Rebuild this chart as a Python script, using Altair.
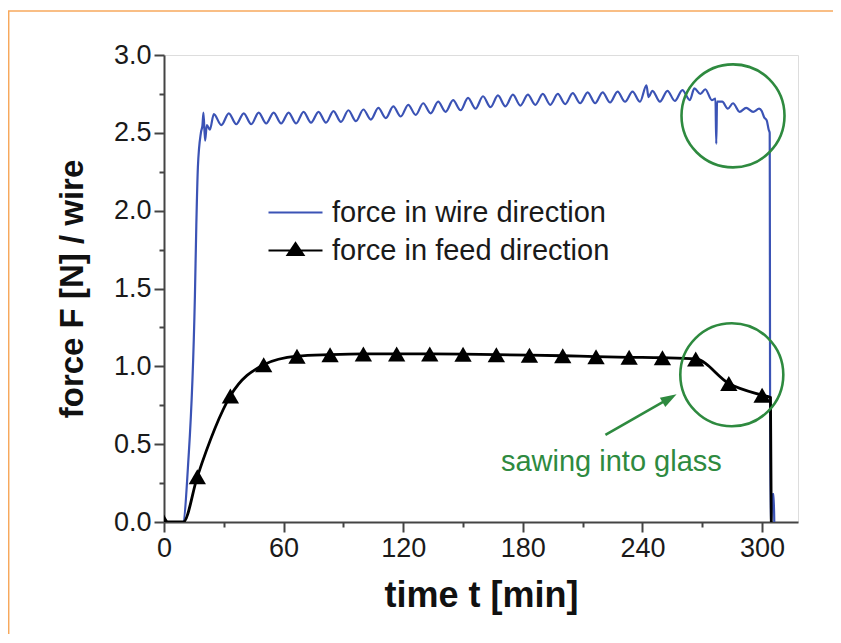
import altair as alt
import pandas as pd

# ---------------- data ----------------
wire_time = [0, 9.5, 12.0, 15.5, 16.2, 17.0, 18.5, 19.3, 19.8, 20.6, 21.5, 23.0,
             25, 28.75, 32.5, 36.25, 40, 43.75, 47.5, 51.25, 55, 58.75, 62.5, 66.25,
             70, 73.75, 77.5, 81.25, 85, 88.75, 92.5, 96.25, 100, 103.75, 107.5, 111.25,
             115, 118.75, 122.5, 126.25, 130, 133.75, 137.5, 141.25, 145, 148.75, 152.5,
             156.25, 160, 163.75, 167.5, 171.25, 175, 178.75, 182.5, 186.25, 190, 193.75,
             197.5, 201.25, 205, 208.75, 212.5, 216.25, 220, 223.75, 227.5, 231.25, 235,
             238.75, 242, 243, 245, 248.75, 252.5, 256.25, 260, 263.75, 266, 269, 271.5,
             274.8, 276.6, 277.0, 277.4, 280, 282.8, 285.4, 288.7, 292, 295.5, 298.5,
             299.8, 301, 302.3, 303.3, 303.8, 304.1, 304.6, 305.2, 305.8, 306.1]
wire_force = [0, 0, 0.35, 1.45, 1.9, 2.28, 2.5, 2.55, 2.63, 2.45, 2.55, 2.52,
              2.62, 2.55, 2.625, 2.555, 2.625, 2.555, 2.63, 2.56, 2.63, 2.56, 2.63, 2.56,
              2.635, 2.565, 2.635, 2.565, 2.64, 2.57, 2.645, 2.575, 2.65, 2.585, 2.66, 2.595,
              2.67, 2.605, 2.68, 2.615, 2.69, 2.625, 2.70, 2.635, 2.71, 2.645, 2.725,
              2.655, 2.735, 2.665, 2.74, 2.67, 2.745, 2.675, 2.745, 2.68, 2.75, 2.68,
              2.75, 2.685, 2.755, 2.69, 2.76, 2.69, 2.76, 2.695, 2.765, 2.70, 2.765,
              2.70, 2.805, 2.73, 2.77, 2.70, 2.77, 2.705, 2.775, 2.71, 2.785, 2.75, 2.78,
              2.71, 2.72, 2.43, 2.70, 2.70, 2.655, 2.69, 2.635, 2.66, 2.635, 2.655,
              2.64, 2.60, 2.58, 2.52, 2.50, 0.0, 0.0, 0.18, 0.18, 0.0]

feed_time = [0, 9.7, 16.7, 33.3, 50, 66.7, 83.3, 100, 116.7, 133.3, 150, 166.7,
             183.3, 200, 216.7, 233.3, 250, 266.7, 283.3, 300, 304.2, 304.6]
feed_force = [0, 0, 0.29, 0.81, 1.01, 1.065, 1.075, 1.08, 1.08, 1.08, 1.078, 1.075,
              1.072, 1.068, 1.062, 1.058, 1.055, 1.047, 0.89, 0.815, 0.80, 0.0]

marker_time = [0, 16.7, 33.3, 50, 66.7, 83.3, 100, 116.7, 133.3, 150, 166.7,
               183.3, 200, 216.7, 233.3, 250, 266.7, 283.3, 300]
marker_force = [0, 0.29, 0.81, 1.01, 1.065, 1.075, 1.08, 1.08, 1.08, 1.078, 1.075,
                1.072, 1.068, 1.062, 1.058, 1.055, 1.047, 0.89, 0.815]

series_names = ["force in wire direction", "force in feed direction"]
x_major_ticks = [0, 60, 120, 180, 240, 300]
x_minor_ticks = [30, 90, 150, 210, 270]
y_major_ticks = [0.0, 0.5, 1.0, 1.5, 2.0, 2.5, 3.0]
y_minor_ticks = [0.25, 0.75, 1.25, 1.75, 2.25, 2.75]

circle_time = [285.4, 284.8]
circle_force = [2.609, 0.946]

arrow_tail = (221.4, 0.559)
arrow_head = (253.2, 0.792)
note_text = "sawing into glass"
note_pos = (224.4, 0.385)

BLUE = "#3b53b5"
GREEN = "#2e8a3f"
FRAME = "#444444"
ORANGE = "#f7a85c"
FONT = "Liberation Sans"

wire_df = pd.DataFrame({"t": wire_time, "f": wire_force})
feed_df = pd.DataFrame({"t": feed_time, "f": feed_force})
marker_df = pd.DataFrame({"t": marker_time, "f": marker_force})
circle_df = pd.DataFrame({"t": circle_time, "f": circle_force})
arrow_df = pd.DataFrame({"t": [arrow_tail[0]], "f": [arrow_tail[1]],
                         "t2": [arrow_head[0]], "f2": [arrow_head[1]]})
head_df = pd.DataFrame({"t": [arrow_head[0]], "f": [arrow_head[1]]})
note_df = pd.DataFrame({"t": [note_pos[0]], "f": [note_pos[1]], "label": [note_text]})
legend_df = pd.DataFrame({"series": series_names})

xs = alt.Scale(domain=[0, 318], nice=False, zero=False)
ys = alt.Scale(domain=[0, 3], nice=False, zero=False)

x_major = alt.Axis(values=x_major_ticks, title="time t [min]", orient="bottom",
                   tickSize=10, tickWidth=2, tickColor=FRAME, domainColor=FRAME,
                   domainWidth=2, labelFontSize=27, labelFont=FONT, labelColor="#1a1a1a",
                   labelPadding=3, labelFlush=False, titleFontSize=36, titleFont=FONT,
                   titleFontWeight="bold", titleColor="#111", titlePadding=17, grid=False)
x_minor = alt.Axis(values=x_minor_ticks, labels=False, title=None, orient="bottom",
                   tickSize=5, tickWidth=2, tickColor=FRAME, domain=False, grid=False)
y_major = alt.Axis(values=y_major_ticks, format=".1f", title="force F [N] / wire",
                   orient="left", tickSize=10, tickWidth=2, tickColor=FRAME,
                   domainColor=FRAME, domainWidth=2, labelFontSize=27, labelFont=FONT,
                   labelColor="#1a1a1a", labelPadding=3, labelFlush=False,
                   titleFontSize=33, titleFont=FONT, titleFontWeight="bold",
                   titleColor="#111", titlePadding=24, grid=False)
y_minor = alt.Axis(values=y_minor_ticks, labels=False, title=None, orient="left",
                   tickSize=5, tickWidth=2, tickColor=FRAME, domain=False, grid=False)

wire = alt.Chart(wire_df).mark_line(color=BLUE, strokeWidth=2.2, clip=True,
                                    interpolate="monotone").encode(
    x=alt.X("t:Q", scale=xs, axis=x_major),
    y=alt.Y("f:Q", scale=ys, axis=y_major),
)
feed = alt.Chart(feed_df).mark_line(color="black", strokeWidth=2.8, interpolate="monotone",
                                    clip=True).encode(
    x=alt.X("t:Q", scale=xs, axis=None),
    y=alt.Y("f:Q", scale=ys, axis=None),
)
markers = alt.Chart(marker_df).mark_point(shape="triangle-up", filled=True, color="black",
                                          size=300, opacity=1, clip=True).encode(
    x=alt.X("t:Q", scale=xs, axis=x_minor),
    y=alt.Y("f:Q", scale=ys, axis=y_minor),
)
circles = alt.Chart(circle_df).mark_point(shape="circle", filled=False, color=GREEN,
                                          size=10609, strokeWidth=2.6, opacity=1).encode(
    x=alt.X("t:Q", scale=xs, axis=None),
    y=alt.Y("f:Q", scale=ys, axis=None),
)
arrow = alt.Chart(arrow_df).mark_rule(color=GREEN, strokeWidth=2.6).encode(
    x=alt.X("t:Q", scale=xs, axis=None), y=alt.Y("f:Q", scale=ys, axis=None),
    x2="t2:Q", y2="f2:Q",
)
head = alt.Chart(head_df).mark_point(shape="M0,-1L0.6,0.8L-0.6,0.8Z", filled=True,
                                     color=GREEN, size=324, angle=60, opacity=1).encode(
    x=alt.X("t:Q", scale=xs, axis=None), y=alt.Y("f:Q", scale=ys, axis=None),
)
note = alt.Chart(note_df).mark_text(color=GREEN, font=FONT, fontSize=29, align="center",
                                    baseline="middle").encode(
    x=alt.X("t:Q", scale=xs, axis=None), y=alt.Y("f:Q", scale=ys, axis=None),
    text="label:N",
)

legend_paths = ["M-2.7,0H2.7", "M-2.7,0H2.7M-0.8,0.45L0,-0.75L0.8,0.45Z"]
leg = alt.Legend(title=None, orient="none", legendX=117, legendY=143, padding=0,
                 labelFontSize=29, labelFont=FONT, labelColor="#1a1a1a", labelOffset=22,
                 symbolSize=400, symbolStrokeWidth=2, symbolOpacity=1, rowPadding=8,
                 labelLimit=500)
cscale = alt.Scale(domain=series_names, range=[BLUE, "black"])
legend_layer = alt.Chart(legend_df).mark_point(clip=True, strokeWidth=2).encode(
    x=alt.value(-500), y=alt.value(-500),
    fill=alt.Fill("series:N", scale=cscale, legend=leg, sort=series_names),
    stroke=alt.Stroke("series:N", scale=cscale, legend=leg, sort=series_names),
    shape=alt.Shape("series:N", scale=alt.Scale(domain=series_names, range=legend_paths),
                    legend=leg, sort=series_names),
)

# orange outer frame (decorative)
frame_top = alt.Chart(legend_df.head(1)).mark_rule(color=ORANGE, strokeWidth=1.5).encode(
    x=alt.value(-156), x2=alt.value(700), y=alt.value(-44))
frame_left = alt.Chart(legend_df.head(1)).mark_rule(color=ORANGE, strokeWidth=1.5).encode(
    x=alt.value(-155.3), y=alt.value(-44), y2=alt.value(600))

chart = alt.layer(
    frame_top, frame_left, wire, markers, feed, circles, arrow, head, note, legend_layer
).resolve_axis(x="independent", y="independent").properties(
    width=634, height=467,
    autosize=alt.AutoSizeParams(type="none"),
    padding={"left": 156, "top": 47, "right": 35, "bottom": 112},
).configure_view(stroke=FRAME, strokeWidth=2).configure(background="white")

chart.save("out.html", embed_options={"renderer": "svg", "actions": False})
